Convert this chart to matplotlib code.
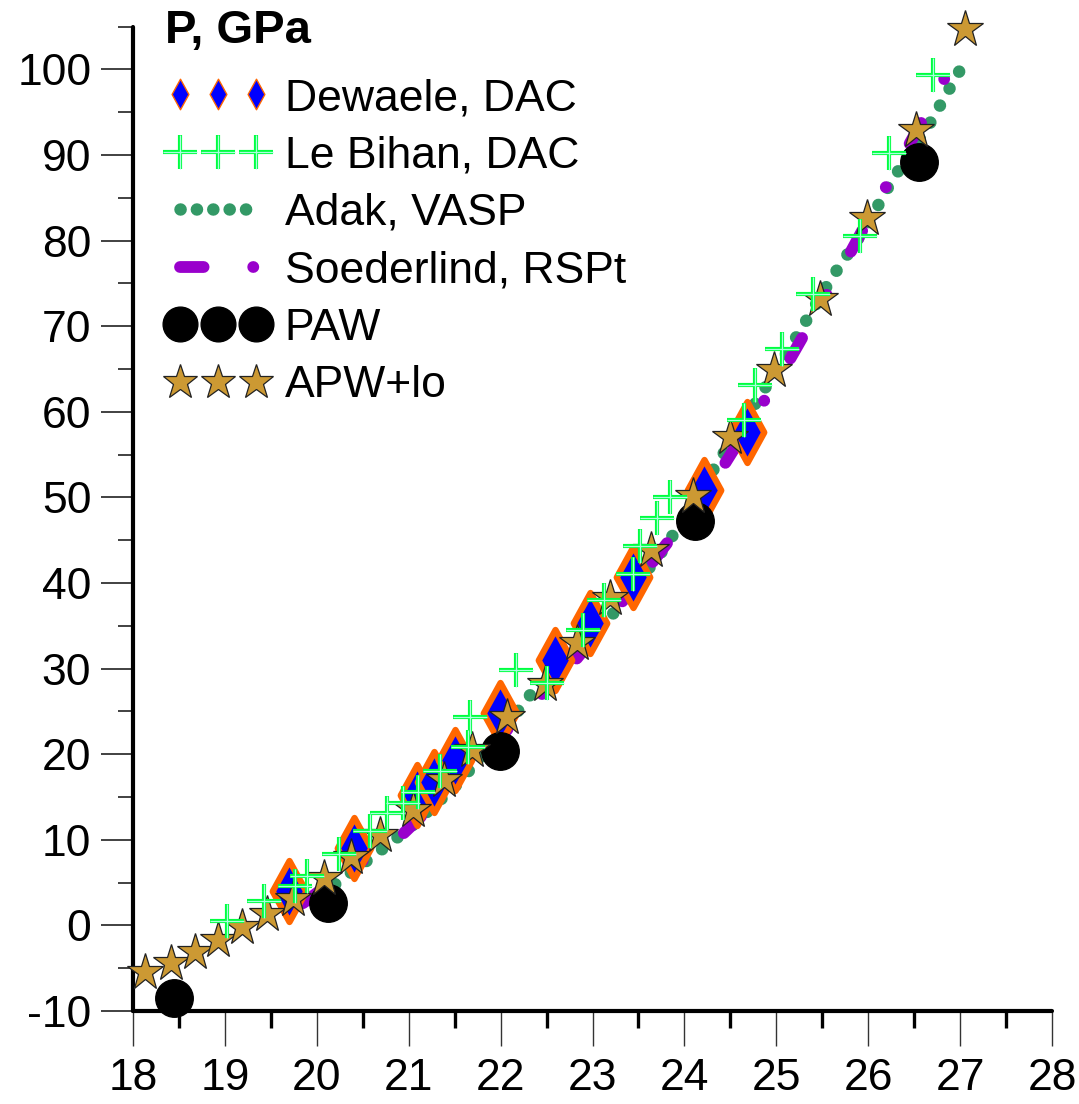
import matplotlib
matplotlib.use("Agg")
import matplotlib.pyplot as plt
from matplotlib.lines import Line2D
from matplotlib.path import Path
from matplotlib.markers import MarkerStyle

plt.rcParams['font.family'] = ['Liberation Sans', 'DejaVu Sans']
plt.rcParams['axes.unicode_minus'] = False

# Dewaele, DAC (diamonds)
dewaele_v = [19.70, 20.40, 21.09, 21.27, 21.50, 21.99, 22.59, 22.97, 23.44, 24.21, 24.68]
dewaele_p = [4.0, 9.1, 15.2, 16.8, 19.3, 24.8, 31.0, 35.3, 40.7, 50.9, 57.7]

# Le Bihan, DAC (plus signs)
lebihan_v = [19.02, 19.43, 19.76, 19.89, 20.24, 20.58, 20.76, 20.94, 21.10, 21.34, 21.65,
             21.67, 22.17, 22.50, 22.90, 23.12, 23.44, 23.52, 23.70, 23.84, 24.65, 24.77,
             25.06, 25.40, 25.91, 26.23, 26.71]
lebihan_p = [0.5, 2.9, 4.6, 5.8, 8.4, 11.0, 13.1, 14.3, 15.6, 18.0, 20.9,
             24.4, 29.8, 28.3, 34.5, 38.0, 41.0, 44.3, 47.6, 50.1, 59.0, 63.1,
             67.3, 73.8, 80.6, 90.2, 99.3]

# Adak, VASP (dotted curve)
adak_v = [20.20, 20.65, 21.00, 21.50, 22.00, 22.30, 22.80, 23.28, 23.80, 24.40, 24.85,
          25.25, 25.60, 26.00, 26.25, 26.65, 27.05]
adak_p = [4.8, 8.4, 11.3, 16.2, 22.2, 26.7, 31.4, 37.1, 44.3, 54.7, 62.3,
          69.3, 75.6, 82.0, 86.9, 93.3, 100.9]

# Soederlind, RSPt (dash-dot curve)
soed_v = [19.85, 20.40, 20.90, 21.50, 22.30, 22.80, 23.20, 23.80, 24.42, 25.13, 25.72,
          26.32, 26.66, 27.00]
soed_p = [2.6, 6.9, 10.3, 16.5, 25.4, 30.8, 36.1, 44.5, 53.6, 65.8, 76.9,
          88.8, 95.4, 102.5]

# PAW (black circles)
paw_v = [18.45, 20.12, 21.99, 24.12, 26.55]
paw_p = [-8.5, 2.6, 20.4, 47.2, 89.2]

# APW+lo (stars)
apw_v = [18.13, 18.41, 18.67, 18.92, 19.19, 19.46, 19.74, 20.08, 20.37, 20.69, 21.05,
         21.38, 21.69, 22.07, 22.48, 22.83, 23.19, 23.64, 24.09, 24.50, 24.98, 25.48,
         25.99, 26.52, 27.05]
apw_p = [-5.4, -4.4, -3.1, -1.7, -0.2, 1.3, 3.1, 5.5, 8.0, 10.6, 13.5,
         17.0, 20.5, 24.4, 28.2, 33.0, 38.2, 43.9, 50.2, 57.1, 64.9, 73.2,
         82.7, 92.9, 104.7]

W, H = 1079, 1104
fig = plt.figure(figsize=(W / 100, H / 100), dpi=100)
ax = fig.add_axes([133 / W, 1 - 1011 / H, 919 / W, (1011 - 26.7) / H])

diamond = MarkerStyle(Path([(0, 1), (0.55, 0), (0, -1), (-0.55, 0), (0, 1)],
                           [Path.MOVETO, Path.LINETO, Path.LINETO, Path.LINETO, Path.CLOSEPOLY]),
                      joinstyle='round')

green = '#339966'
purple = '#9900cc'
soed_ls = (0, (2.0, 4.2, 0.01, 4.2))
adak_ls = (0, (0.01, 1.55))

ax.plot(adak_v, adak_p, color=green, lw=9, linestyle=adak_ls,
        dash_capstyle='round', zorder=3)
ax.plot(soed_v, soed_p, color=purple, lw=8.5, linestyle=soed_ls,
        dash_capstyle='round', zorder=4)
ax.plot(dewaele_v, dewaele_p, linestyle='none', marker=diamond, ms=44,
        mfc='#0000ff', mec='#ff6600', mew=4.5, zorder=5, clip_on=False)
ax.plot(paw_v, paw_p, linestyle='none', marker='o', ms=27, mfc='black',
        mec='black', zorder=6, clip_on=False)
ax.plot(apw_v, apw_p, linestyle='none', marker='*', ms=28, mfc='#cc9933',
        mec='#222222', mew=0.9, zorder=7, clip_on=False)
ax.plot(lebihan_v, lebihan_p, linestyle='none', marker='+', ms=24, mec='#00ff40',
        mew=3.0, zorder=8, clip_on=False)
ax.plot(lebihan_v, lebihan_p, linestyle='none', marker='+', ms=24, mec='#aaffe0',
        mew=0.9, zorder=9, clip_on=False)

ax.set_xlim(18, 28)
ax.set_ylim(-10, 105)
ax.set_xticks(range(18, 29))
ax.set_xticks([x + 0.5 for x in range(18, 28)], minor=True)
ax.set_yticks(range(-10, 101, 10))
ax.set_yticks(range(-5, 106, 10), minor=True)

for side in ['top', 'right']:
    ax.spines[side].set_visible(False)
for side in ['left', 'bottom']:
    ax.spines[side].set_linewidth(3)
    ax.spines[side].set_capstyle('round')

ax.tick_params(axis='x', which='major', length=25, width=1.0, pad=9,
               labelsize=32, color='#333333')
ax.tick_params(axis='x', which='minor', length=12, width=2.4, color='black')
ax.tick_params(axis='y', which='major', length=23, width=1.3, pad=7,
               labelsize=32, color='#333333')
ax.tick_params(axis='y', which='minor', length=11, width=1.3, color='#333333')

fig.text(165 / W, 1 - 31 / H, 'P, GPa', fontsize=34, fontweight='bold',
         ha='left', va='center')

h_dew = Line2D([], [], linestyle='none', marker=diamond, ms=22, mfc='#0000ff',
               mec='#ff6600', mew=1.0)
h_leb = (Line2D([], [], linestyle='none', marker='+', ms=24, mec='#00ff40', mew=3.0),
         Line2D([], [], linestyle='none', marker='+', ms=24, mec='#aaffe0', mew=0.9))
h_adak = Line2D([], [], color=green, lw=9, linestyle=(0, (0.01, 1.3)),
                dash_capstyle='round')
h_soed = Line2D([], [], color=purple, lw=8.5, linestyle=soed_ls, dash_capstyle='round')
h_paw = Line2D([], [], linestyle='none', marker='o', ms=25, mfc='black', mec='black')
h_apw = Line2D([], [], linestyle='none', marker='*', ms=26, mfc='#cc9933',
               mec='#222222', mew=0.9)

ax.legend([h_dew, h_leb, h_adak, h_soed, h_paw, h_apw],
          ['Dewaele, DAC', 'Le Bihan, DAC', 'Adak, VASP', 'Soederlind, RSPt', 'PAW', 'APW+lo'],
          loc='upper left', bbox_to_anchor=(167 / W, 1 - 78 / H),
          bbox_transform=fig.transFigure, frameon=False, fontsize=32,
          numpoints=3, handlelength=2.3, handletextpad=0.35, labelspacing=0.37,
          borderpad=0, borderaxespad=0)

fig.savefig('out.png', dpi=100)
